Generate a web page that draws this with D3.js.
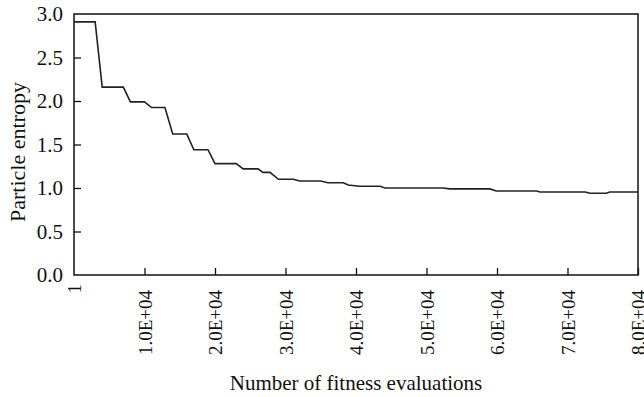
<!DOCTYPE html>
<html>
<head>
<meta charset="utf-8">
<script src="https://cdn.jsdelivr.net/npm/d3@7"></script>
<style>
  body { margin: 0; background: #fff; }
  text { font-family: "Liberation Serif", "Times New Roman", serif; fill: #111; }
</style>
</head>
<body>
<svg id="chart" width="644" height="397"></svg>
<script>
const evals = [1, 3000, 4000, 7000, 8000, 10000, 11000, 12900, 14000, 16000, 17000, 19000,
  20000, 23000, 24000, 26100, 26800, 27800, 29000, 31100, 32000, 35000, 36000, 38200,
  38900, 40500, 43400, 44100, 52300, 53300, 59000, 59900, 65600, 66100, 72500, 73200,
  75500, 76000, 80000];
const entropy = [2.91, 2.91, 2.16, 2.16, 1.99, 1.99, 1.925, 1.925, 1.62, 1.62, 1.44, 1.44,
  1.28, 1.28, 1.22, 1.22, 1.18, 1.18, 1.10, 1.10, 1.08, 1.08, 1.06, 1.06,
  1.035, 1.02, 1.02, 1.00, 1.00, 0.99, 0.99, 0.965, 0.965, 0.954, 0.954, 0.94,
  0.94, 0.954, 0.954];
const xTicks = [1, 10000, 20000, 30000, 40000, 50000, 60000, 70000, 80000];
const xTickLabels = ['1', '1.0E+04', '2.0E+04', '3.0E+04', '4.0E+04', '5.0E+04', '6.0E+04', '7.0E+04', '8.0E+04'];
const yTicks = [0, 0.5, 1.0, 1.5, 2.0, 2.5, 3.0];

const margin = { left: 74, right: 6, top: 14, bottom: 122 };
const width = 644 - margin.left - margin.right;
const height = 397 - margin.top - margin.bottom;

const svg = d3.select('#chart');
const g = svg.append('g')
  .attr('transform', 'translate(' + margin.left + ',' + margin.top + ')');

const x = d3.scaleLinear().domain([0, 80000]).range([0, width]);
const y = d3.scaleLinear().domain([0, 3]).range([height, 0]);

// frame
g.append('rect')
  .attr('width', width)
  .attr('height', height)
  .attr('fill', 'none')
  .attr('stroke', '#111')
  .attr('stroke-width', 1.5);

// x axis, ticks pointing inward
const xAxis = g.append('g')
  .attr('transform', 'translate(0,' + height + ')')
  .call(d3.axisBottom(x).tickValues(xTicks).tickSizeInner(-7).tickSizeOuter(0)
    .tickFormat((d, i) => xTickLabels[i]));
xAxis.select('.domain').remove();
xAxis.selectAll('line').attr('stroke', '#111').attr('stroke-width', 1.3);
xAxis.selectAll('.tick').filter(d => d === 1).select('line').remove();
xAxis.selectAll('text')
  .attr('transform', 'rotate(-90)')
  .attr('x', d => d === 1 ? -9 : -15)
  .attr('y', 0)
  .attr('dy', '0.35em')
  .style('text-anchor', 'end')
  .style('font-size', '19px')
  .style('font-family', '"Liberation Serif", serif')
  .attr('fill', '#111');

// y axis, ticks pointing inward
const yAxis = g.append('g')
  .call(d3.axisLeft(y).tickValues(yTicks).tickSizeInner(-7).tickSizeOuter(0)
    .tickFormat(d3.format('.1f')));
yAxis.select('.domain').remove();
yAxis.selectAll('line').attr('stroke', '#111').attr('stroke-width', 1.3);
yAxis.selectAll('.tick').filter(d => d === 0 || d === 3).select('line').remove();
yAxis.selectAll('text')
  .attr('x', -11)
  .style('font-size', '21px')
  .style('font-family', '"Liberation Serif", serif')
  .attr('fill', '#111');

// entropy curve
const pts = evals.map((v, i) => [v, entropy[i]]);
g.append('path')
  .datum(pts)
  .attr('fill', 'none')
  .attr('stroke', '#222')
  .attr('stroke-width', 1.6)
  .attr('d', d3.line().x(d => x(d[0])).y(d => y(d[1])));

// axis titles
svg.append('text')
  .attr('x', margin.left + width / 2)
  .attr('y', 390)
  .attr('text-anchor', 'middle')
  .style('font-size', '21px')
  .text('Number of fitness evaluations');

svg.append('text')
  .attr('transform', 'translate(25,152) rotate(-90)')
  .attr('text-anchor', 'middle')
  .style('font-size', '22px')
  .text('Particle entropy');
</script>
</body>
</html>
